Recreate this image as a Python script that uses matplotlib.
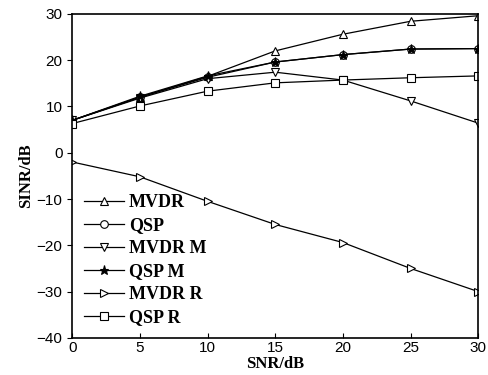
import numpy as np
import matplotlib.pyplot as plt

# SNR values (dB)
snr = [0, 5, 10, 15, 20, 25, 30]

# SINR curves (dB)
mvdr = [7.0, 12.0, 16.5, 22.0, 25.6, 28.4, 29.6]
qsp = [7.0, 12.0, 16.3, 19.6, 21.2, 22.4, 22.5]
mvdr_m = [7.0, 11.8, 16.0, 17.4, 15.7, 11.2, 6.4]
qsp_m = [7.0, 12.2, 16.6, 19.6, 21.2, 22.4, 22.5]
mvdr_r = [-2.0, -5.2, -10.5, -15.5, -19.4, -25.0, -30.0]
qsp_r = [6.3, 10.1, 13.3, 15.1, 15.7, 16.2, 16.6]

labels = ['MVDR', 'QSP', 'MVDR M', 'QSP M', 'MVDR R', 'QSP R']

plt.rcParams['font.family'] = ['Liberation Sans', 'DejaVu Sans']

fig = plt.figure(figsize=(4.88, 3.75), dpi=100)
ax = fig.add_axes([0.148, 0.099, 0.832, 0.864])

series = [mvdr, qsp, mvdr_m, qsp_m, mvdr_r, qsp_r]
markers = ['^', 'o', 'v', '*', '>', 's']
for y, m, lab in zip(series, markers, labels):
    face = 'black' if m == '*' else 'white'
    ax.plot(snr, y, color='black', lw=0.9, marker=m, ms=5.5 if m != '*' else 6.5,
            mfc=face, mec='black', mew=0.8, label=lab)

ax.set_xlim(0, 30)
ax.set_ylim(-40, 30)
ax.set_xticks(range(0, 31, 5))
ax.set_yticks(range(-40, 31, 10))
ax.tick_params(axis='x', direction='in', labelsize=11, pad=2)
ax.tick_params(axis='y', direction='out', labelsize=11)
for s in ax.spines.values():
    s.set_linewidth(1.2)

serif = {'family': ['Liberation Serif', 'DejaVu Serif'], 'weight': 'bold', 'size': 12}
ax.set_xlabel('SNR/dB', fontdict=serif, labelpad=1)
ax.set_ylabel('SINR/dB', fontdict=serif, labelpad=2)

leg = ax.legend(loc='lower left', frameon=False, handlelength=2.2,
                prop={'family': ['Liberation Serif', 'DejaVu Serif'], 'weight': 'bold', 'size': 13},
                labelspacing=0.33, borderaxespad=0.25, handletextpad=0.3)

fig.savefig('out.png', dpi=100)
